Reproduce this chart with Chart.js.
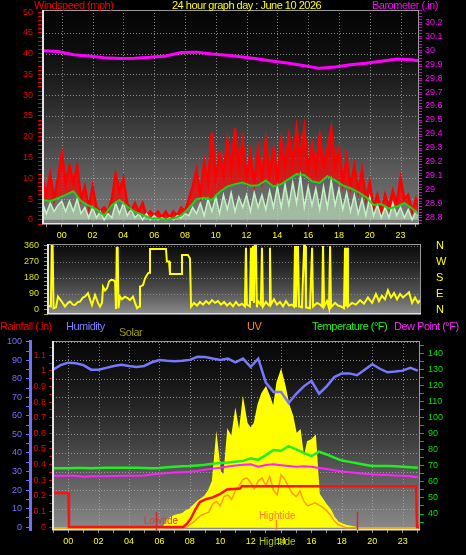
<!DOCTYPE html>
<html>
<head>
<meta charset="utf-8">
<title>24 hour graph</title>
<script src="https://cdn.jsdelivr.net/npm/chart.js@4.4.1/dist/chart.umd.min.js"></script>
<style>
  html, body { margin: 0; padding: 0; background: #000; }
  body { position: relative; width: 466px; height: 555px; overflow: hidden; font-family: "Liberation Sans", Arial, sans-serif; }
  canvas { position: absolute; left: 0; }
  .cap { position: absolute; font-size: 11px; line-height: 11px; letter-spacing: -0.5px; white-space: nowrap; }
</style>
</head>
<body>
<canvas id="windChart" width="466" height="240" style="top:0"></canvas>
<canvas id="dirChart" width="466" height="86" style="top:236px"></canvas>
<canvas id="climateChart" width="466" height="235" style="top:320px"></canvas>

<div class="cap" style="left:34px;top:0;color:#f00000">Windspeed (mph)</div>
<div class="cap" style="left:172px;top:0;color:#ffff00">24 hour graph day : June 10 2026</div>
<div class="cap" style="left:372px;top:0;color:#ff00ff">Barometer (.in)</div>

<div class="cap" style="left:0;top:321px;color:#f00000">Rainfall (.in)</div>
<div class="cap" style="left:66px;top:321px;color:#8080ff">Humidity</div>
<div class="cap" style="left:119px;top:327px;color:#9c9c00">Solar</div>
<div class="cap" style="left:247px;top:321px;color:#ff8a1a">UV</div>
<div class="cap" style="left:312px;top:321px;color:#22ee22">Temperature (°F)</div>
<div class="cap" style="left:394px;top:321px;color:#ff22ff">Dew Point (°F)</div>

<script>
// hour axis
const hourTicks = [0, 2, 4, 6, 8, 10, 12, 14, 16, 18, 20, 22];
const hourLabels = ["00", "02", "04", "06", "08", "10", "12", "14", "16", "18", "20", "23"];

// ---- wind panel (mph), quarter hour samples from -1.25h
const gustStart = -1.25;
const gust = [10,
  6, 11, 5, 10,
  16, 9, 13, 9,
  13, 5, 8, 3,
  8, 3, 2, 3,
  2, 5, 11, 7,
  10, 4, 2, 4,
  2, 4, 1, 2,
  1, 2, 0.5, 2,
  0.5, 2, 1, 3,
  2, 5, 8, 12,
  6, 14, 9, 21,
  10, 16, 11, 19,
  12, 22, 13, 19,
  10, 16, 9, 17,
  10, 19, 11, 17,
  10, 19, 13, 20,
  14, 22, 15, 22,
  12, 18, 12, 20,
  13, 17, 22, 13,
  17, 9, 15, 8,
  13, 7, 12, 5,
  9, 3, 6, 2,
  6, 3, 7, 4,
  10, 5, 6, 2,
  5, 2];
const speed = [4,
  1.5, 4, 2, 3.5,
  4.5, 2, 4.5, 2,
  5, 1.5, 3, 0.5,
  3, 0.5, 2, 0,
  1.5, 0.5, 4, 1.5,
  4, 1, 2.5, 0.5,
  1.5, 0, 1.5, 0,
  1, 0, 0.5, 0,
  0.5, 0, 1, 0.5,
  1.5, 1, 3, 1.5,
  4, 1, 5, 2,
  5.5, 1.5, 6, 2.5,
  6.5, 2, 5.5, 3,
  6, 2, 6.5, 3,
  6, 2.5, 7, 3,
  8, 3, 8.5, 3.5,
  9, 4, 10.5, 3,
  8, 3.5, 7.5, 2.5,
  8, 3, 9.5, 3.5,
  7.5, 2.5, 6.5, 2,
  6, 1.5, 5, 1,
  5.5, 1, 3.5, 0.5,
  3, 0.5, 4, 1,
  3, 0.5, 2.5, 0,
  2, 0.5];
// average speed, half hour samples
const avgSpeed = [4.8, 4.5, 5.2, 6, 6.9, 4.5, 3.4, 2.5, 1, 3.5,
  4.8, 3.2, 1.9, 1.2, 0.4, 0.3, 0, 0.3, 1, 2.8,
  5, 5.3, 4.8, 6.7, 8, 8.6, 9, 8.2, 8.3, 9.5,
  8, 8.6, 9.8, 11, 10.8, 9.3, 8.9, 10.5, 9.5, 8.3,
  7.6, 6.7, 5.5, 3.6, 3.8, 2.7, 3.2, 4, 2.8, 1];
// barometer (.in), hourly samples
const baro = [29.995, 29.99, 29.966, 29.957, 29.945, 29.94, 29.942, 29.948, 29.958, 29.982,
  29.985, 29.972, 29.962, 29.95, 29.936, 29.92, 29.905, 29.888, 29.869, 29.878,
  29.895, 29.906, 29.92, 29.935, 29.93, 29.91];
const windGrid = [5, 10, 15, 20, 25, 30, 35, 40, 45];

// ---- wind direction (degrees)
const dirTimes = [-0.83, -0.7, -0.65, -0.59, -0.53, -0.37, -0.24, -0.11, 0.02, 0.21,
  0.41, 0.54, 0.73, 0.86, 1.06, 1.19, 1.38, 1.51, 1.71, 1.84,
  1.97, 2.17, 2.36, 2.49, 2.62, 2.69, 2.82, 2.95, 3.08, 3.2,
  3.34, 3.47, 3.53, 3.58, 3.64, 3.69, 3.79, 3.92, 4.11, 4.31,
  4.44, 4.64, 4.77, 4.9, 5.03, 5.09, 5.29, 5.42, 5.61, 5.68,
  5.74, 6.78, 6.84, 6.98, 7.04, 7.76, 7.82, 8.21, 8.34, 8.41,
  8.6, 8.8, 8.99, 9.19, 9.38, 9.58, 9.77, 9.97, 10.16, 10.36,
  10.56, 10.75, 10.94, 11.14, 11.33, 11.52, 11.72, 11.91, 11.98, 12.04,
  12.24, 12.3, 12.37, 12.43, 12.5, 12.56, 12.63, 12.69, 12.76, 12.95,
  13.02, 13.09, 13.28, 13.48, 13.54, 13.6, 13.8, 13.99, 14.19, 14.39,
  14.58, 14.78, 14.97, 15.1, 15.17, 15.23, 15.36, 15.43, 15.62, 15.76,
  15.82, 15.88, 16.14, 16.28, 16.34, 16.6, 16.8, 16.93, 16.99, 17.06,
  17.25, 17.38, 17.45, 17.51, 17.77, 17.96, 18.16, 18.35, 18.42, 18.48,
  18.55, 18.61, 18.87, 19.13, 19.4, 19.65, 19.91, 20.18, 20.43, 20.63,
  20.82, 21.02, 21.21, 21.41, 21.61, 21.8, 22.0, 22.19, 22.39, 22.58,
  22.78, 22.97, 23.17, 23.3];
const dirValues = [22, 20, 360, 360, 10, 15, 75, 60, 45, 19,
  40, 47, 30, 28, 45, 47, 70, 75, 94, 60,
  28, 84, 40, 19, 40, 131, 110, 122, 160, 169,
  169, 160, 5, 350, 350, 10, 75, 60, 75, 65,
  56, 75, 40, 10, 20, 131, 140, 178, 206, 210,
  343, 343, 272, 272, 202, 202, 309, 309, 290, 19,
  40, 25, 45, 30, 50, 35, 55, 40, 50, 30,
  45, 25, 40, 20, 45, 25, 35, 20, 350, 30,
  20, 350, 50, 360, 40, 360, 360, 15, 50, 30,
  350, 20, 45, 25, 350, 30, 60, 30, 45, 20,
  50, 25, 30, 20, 360, 15, 360, 20, 15, 360,
  360, 15, 10, 350, 20, 40, 30, 20, 360, 20,
  50, 10, 360, 15, 40, 25, 20, 10, 350, 20,
  350, 20, 40, 30, 55, 35, 70, 40, 90, 50,
  80, 60, 110, 70, 95, 60, 90, 70, 85, 100,
  40, 70, 40, 55];
const dirGrid = [90, 180, 270, 360];
const compass = { 0: "N", 90: "E", 180: "S", 270: "W", 360: "N" };

// ---- climate panel, half hour samples from -1h
const humidity = [85, 87.5, 88.8, 88.5, 87.5, 85, 85, 86, 87, 87.6,
  87, 86.5, 87, 89, 90.2, 89.8, 89.5, 89.8, 90.3, 92,
  91.8, 91, 90.3, 91, 89, 91, 86.5, 91, 78, 73,
  73, 67, 72, 76, 79, 72, 76, 81, 83, 83,
  82, 85, 88, 85.5, 83.6, 84, 84.5, 86, 84.5];
const temperature = [68.5, 68.5, 68.5, 68.6, 68.6, 68.5, 68.6, 68.7, 68.7, 68.8,
  68.8, 68.8, 68.6, 68.5, 68.6, 69, 69.3, 69.6, 69.8, 70.2,
  70.6, 71.2, 71.7, 72, 72.5, 73, 74.6, 73.6, 76.6, 79.8,
  79.3, 82.2, 80.2, 78, 76, 78.7, 77, 75, 73.2, 72.4,
  71.5, 70.6, 69.8, 69.8, 69.8, 69.6, 69.4, 69, 68.8];
const dewPoint = [63.8, 63.8, 63.8, 63.8, 63.2, 63.4, 63.4, 63.5, 63.6, 63.8,
  63.8, 63.8, 64, 64.5, 65, 65.4, 65.8, 66, 66.3, 66.8,
  67.5, 68.2, 68.8, 69.5, 70.2, 70.6, 70.9, 69.4, 70.5, 70.9,
  70.3, 69.8, 69.4, 69.6, 69.4, 68.6, 68, 67.2, 66.4, 65.9,
  65.5, 65, 64.6, 64.4, 64.2, 64, 63.8, 63.4, 62.8];
// quarter hour samples from -1h
const solar = [0, 0, 0, 0, 0, 0, 0, 0, 0, 0, 0, 0, 0, 0, 0, 0, 0, 0, 0, 0,
  0, 0, 0, 0, 0, 0, 0, 0,
  0, 0, 40, 55, 65, 70, 75, 90, 100, 120, 140, 155, 170, 200, 250, 480,
  300, 280, 520, 480, 620, 500, 680, 560, 530, 560, 660, 720, 750, 700, 640, 780,
  840, 760, 660, 600, 500, 520, 360, 460, 470, 490, 180, 150, 120, 95, 55, 30,
  20, 12, 8, 4, 0,
  0, 0, 0, 0, 0, 0, 0, 0, 0, 0, 0, 0, 0, 0, 0, 0];
const uv = [0, 0, 0, 0, 0, 0, 0, 0, 0, 0, 0, 0, 0, 0, 0, 0, 0, 0, 0, 0,
  0, 0, 0, 0, 0, 0, 0, 0, 0, 0, 0, 0, 0, 0, 0, 0,
  0.2, 0.35, 0.6, 0.8, 0.9, 1.0, 1.5, 1.7, 1.4, 2.0, 2.1, 1.8, 2.4, 2.7, 3.1, 3.2,
  2.9, 2.5, 3.0, 3.2, 2.7, 3.3, 2.4, 2.1, 3.4, 3.1, 2.6, 2.2, 2.0, 2.35, 1.7, 1.4,
  1.5, 1.6, 1.45, 1.3, 1.1, 0.8, 0.45, 0.2, 0.1,
  0, 0, 0, 0, 0, 0, 0, 0, 0, 0, 0, 0, 0, 0, 0, 0, 0, 0, 0, 0];
const rainTimes = [-1.0, 0.02, 0.05, 7.57, 7.8, 8.07, 8.34, 8.66, 9.1, 9.5, 9.97, 10.44, 11.3, 11.43, 22.88, 22.95, 23.14];
const rainValues = [0.218, 0.218, 0, 0, 0.02, 0.055, 0.108, 0.16, 0.18, 0.19, 0.21, 0.24, 0.246, 0.261, 0.261, 0, 0];
const tideTimes = [5.8, 13.7, 19.0];
const tideColors = ["#d02a2a", "#ff8428", "#d02a2a"];
const tideTexts = [{ t: 6.1, text: "Lowtide", color: "#c84040" }, { t: 13.75, text: "Hightide", color: "#ff7a30" }];
const humGrid = [10, 20, 30, 40, 50, 60, 70, 80, 90, 100];

Chart.defaults.font.family = "'Liberation Sans', Arial, sans-serif";
Chart.defaults.font.size = 9;
Chart.defaults.animation = false;
Chart.defaults.plugins.legend.display = false;
Chart.defaults.plugins.tooltip.enabled = false;
Chart.defaults.elements.point.radius = 0;
Chart.defaults.elements.line.tension = 0;

const series = (start, step, values) => values.map((v, i) => ({ x: start + i * step, y: v }));
const pairs = (times, values) => values.map((v, i) => ({ x: times[i], y: v }));
const isStep = (v, every) => Math.abs(v / every - Math.round(v / every)) < 1e-6;
const hourLabel = v => {
  const i = hourTicks.findIndex(t => Math.abs(t - v) < 1e-6);
  return i < 0 ? "" : hourLabels[i];
};
const oneDecimal = v => String(+v.toFixed(1));

// background shading, dotted grid and plot frame
const panelDeco = {
  id: "panelDeco",
  beforeDraw(chart, args, o) {
    const { ctx, chartArea: a } = chart;
    const g = ctx.createLinearGradient(0, a.top, 0, a.bottom);
    o.shade.forEach((c, i) => g.addColorStop(i / (o.shade.length - 1), c));
    ctx.save();
    ctx.fillStyle = g;
    ctx.fillRect(a.left, a.top, a.right - a.left, a.bottom - a.top);
    ctx.restore();
  },
  beforeDatasetsDraw(chart, args, o) {
    const { ctx, chartArea: a, scales } = chart;
    ctx.save();
    ctx.strokeStyle = o.gridColor;
    ctx.lineWidth = 1;
    ctx.setLineDash([1, 2]);
    ctx.beginPath();
    (o.gridX || []).forEach(v => {
      const px = Math.round(scales.x.getPixelForValue(v)) + 0.5;
      ctx.moveTo(px, a.top);
      ctx.lineTo(px, a.bottom);
    });
    (o.gridY || []).forEach(v => {
      const py = Math.round(scales[o.gridAxis].getPixelForValue(v)) + 0.5;
      ctx.moveTo(a.left, py);
      ctx.lineTo(a.right, py);
    });
    ctx.stroke();
    ctx.restore();
  },
  afterDatasetsDraw(chart) {
    const { ctx, chartArea: a } = chart;
    ctx.save();
    ctx.strokeStyle = "#9a9a9a";
    ctx.lineWidth = 1;
    ctx.strokeRect(a.left + 0.5, a.top + 0.5, a.right - a.left - 1, a.bottom - a.top - 1);
    ctx.fillStyle = "#e4e4e4";
    ctx.fillRect(a.left - 1, a.top, 2, a.bottom - a.top);
    ctx.fillRect(a.left - 1, a.bottom - 1, a.right - a.left + 1, 1.5);
    ctx.restore();
  }
};

const tideMarks = {
  id: "tideMarks",
  afterDraw(chart) {
    const { ctx, chartArea: a, scales: { x } } = chart;
    ctx.save();
    tideTimes.forEach((t, i) => {
      const px = Math.round(x.getPixelForValue(t)) + 0.5;
      ctx.strokeStyle = tideColors[i];
      ctx.lineWidth = 1.5;
      ctx.beginPath();
      ctx.moveTo(px, a.bottom - (i === 1 ? 10 : 18));
      ctx.lineTo(px, a.bottom);
      ctx.stroke();
    });
    ctx.font = "10px 'Liberation Sans', Arial";
    ctx.textAlign = "center";
    ctx.textBaseline = "middle";
    ctx.fillStyle = tideTexts[0].color;
    ctx.fillText(tideTexts[0].text, x.getPixelForValue(tideTexts[0].t), a.bottom - 9);
    ctx.fillStyle = tideTexts[1].color;
    ctx.fillText(tideTexts[1].text, x.getPixelForValue(tideTexts[1].t), a.bottom - 14);
    ctx.fillStyle = "#a8d000";
    ctx.fillText(tideTexts[1].text, x.getPixelForValue(tideTexts[1].t), a.bottom + 12);
    ctx.restore();
  }
};

// vertical axis; small lineHeight keeps the label overflow from pushing the plot area
const sideAxis = o => ({
  type: "linear", position: o.position, min: o.min, max: o.max, weight: o.weight || 0,
  afterFit: s => { s.width = o.width; },
  border: o.border || { display: false },
  grid: { drawOnChartArea: false, tickLength: o.tick, color: o.tickColor },
  ticks: { stepSize: o.step, autoSkip: false, includeBounds: false, padding: o.pad, color: o.color,
    font: { size: o.size || 9, lineHeight: 0.6 }, callback: o.label }
});

const timeAxis = (min, max, height, labels) => ({
  type: "linear", position: "bottom", min: min, max: max,
  display: labels !== false,
  afterFit: s => { s.height = height; },
  border: { display: false },
  grid: { drawOnChartArea: false, tickLength: 3, color: "#8c8c8c" },
  ticks: { stepSize: 1, autoSkip: false, includeBounds: false, maxRotation: 0, padding: 3, color: "#ffff00", callback: hourLabel }
});

new Chart(document.getElementById("windChart"), {
  type: "line",
  data: {
    datasets: [
      { data: series(gustStart, 0.5, avgSpeed), borderColor: "#1ed21e", borderWidth: 2, yAxisID: "y" },
      { data: series(gustStart, 0.25, speed), borderColor: "#c6f2c6", backgroundColor: "rgba(200,242,200,0.55)", fill: "origin", borderWidth: 1.5, yAxisID: "y" },
      { data: series(gustStart, 0.25, gust), borderColor: "#ff0000", backgroundColor: "rgba(255,0,0,0.72)", fill: 0, borderWidth: 2.5, yAxisID: "y" },
      { data: series(gustStart, 1, baro), borderColor: "#ff00ff", borderWidth: 3, yAxisID: "yb" }
    ]
  },
  options: {
    responsive: false,
    layout: { padding: { top: 10 } },
    scales: {
      x: timeAxis(-1.22, 23.2, 16),
      y: sideAxis({ position: "left", min: -1, max: 50.5, width: 43, step: 1, tick: 5, tickColor: "#e00000", pad: 5, color: "#f00000",
        label: v => (v >= 0 && isStep(v, 5) ? String(v) : "") }),
      yb: sideAxis({ position: "right", min: 28.757, max: 30.286, width: 47, step: 0.02, tick: 3, tickColor: "#d000d0", pad: 3, color: "#ff00ff",
        label: v => (isStep(v, 0.1) ? oneDecimal(v) : "") })
    },
    plugins: {
      panelDeco: { shade: ["#040404", "#0e0e0e", "#262626", "#444444", "#626262", "#7c7c7c"], gridColor: "rgba(175,175,175,0.75)", gridX: hourTicks, gridY: windGrid, gridAxis: "y" }
    }
  },
  plugins: [panelDeco]
});

new Chart(document.getElementById("dirChart"), {
  type: "line",
  data: {
    datasets: [
      { data: pairs(dirTimes, dirValues), borderColor: "#ffff00", borderWidth: 2, yAxisID: "y" }
    ]
  },
  options: {
    responsive: false,
    layout: { padding: { top: 8, bottom: 8 } },
    scales: {
      x: timeAxis(-0.89, 23.36, 0, false),
      y: sideAxis({ position: "left", min: -22.5, max: 371, width: 48, step: 22.5, tick: 4, tickColor: "#a0a000", pad: 5, color: "#e0e000",
        label: v => (v >= 0 && isStep(v, 90) ? String(v) : "") }),
      yr: sideAxis({ position: "right", min: -22.5, max: 371, width: 45, step: 90, tick: 12, tickColor: "rgba(0,0,0,0)", pad: 3, color: "#ffff00", size: 11,
        label: v => compass[Math.round(v)] || "" })
    },
    plugins: {
      panelDeco: { shade: ["#0a0a0a", "#262626", "#505050", "#8c8c8c"], gridColor: "rgba(160,160,160,0.7)", gridY: dirGrid, gridAxis: "y" }
    }
  },
  plugins: [panelDeco]
});

new Chart(document.getElementById("climateChart"), {
  type: "line",
  data: {
    datasets: [
      { data: series(-1, 0.5, humidity), borderColor: "#7878ff", borderWidth: 2.5, yAxisID: "hum" },
      { data: pairs(rainTimes, rainValues), borderColor: "#ff1010", borderWidth: 2.5, yAxisID: "rain" },
      { data: series(-1, 0.5, temperature), borderColor: "#22ee22", borderWidth: 2.5, yAxisID: "temp" },
      { data: series(-1, 0.5, dewPoint), borderColor: "#ff22ff", borderWidth: 2, yAxisID: "temp" },
      { data: series(-1, 0.25, uv), borderColor: "#ff9a1a", borderWidth: 1.5, yAxisID: "uv" },
      { data: series(-1, 0.25, solar), borderColor: "#ffff00", backgroundColor: "#ffff00", borderWidth: 1.5, fill: "origin", yAxisID: "solar" }
    ]
  },
  options: {
    responsive: false,
    layout: { padding: { top: 21 } },
    scales: {
      x: timeAxis(-1.0, 23.14, 25),
      hum: sideAxis({ position: "left", weight: 2, min: -1.6, max: 100.5, width: 30, step: 5, tick: 4, tickColor: "#7070ff", pad: 4, color: "#7272ff",
        border: { display: true, color: "#7070ff", width: 3 },
        label: v => (v >= 0 && isStep(v, 10) ? String(Math.round(v)) : "") }),
      rain: sideAxis({ position: "left", weight: 1, min: -0.019, max: 1.191, width: 23, step: 0.05, tick: 4, tickColor: "#e00000", pad: 3, color: "#f00000",
        label: v => (v >= 0 && isStep(v, 0.1) ? oneDecimal(v) : "") }),
      temp: sideAxis({ position: "right", min: 30.06, max: 147.5, width: 46, step: 5, tick: 4, tickColor: "#00c000", pad: 4, color: "#00e000",
        label: v => (v >= 40 && v <= 140 && isStep(v, 10) ? String(Math.round(v)) : "") }),
      solar: { type: "linear", display: false, min: -12, max: 1000 },
      uv: { type: "linear", display: false, min: -0.15, max: 12 }
    },
    plugins: {
      panelDeco: { shade: ["#060606", "#141414", "#2c2c2c", "#4a4a4a", "#6a6a6a", "#8a8a8a"], gridColor: "rgba(175,175,175,0.75)", gridX: hourTicks, gridY: humGrid, gridAxis: "hum" }
    }
  },
  plugins: [panelDeco, tideMarks]
});
</script>
</body>
</html>
